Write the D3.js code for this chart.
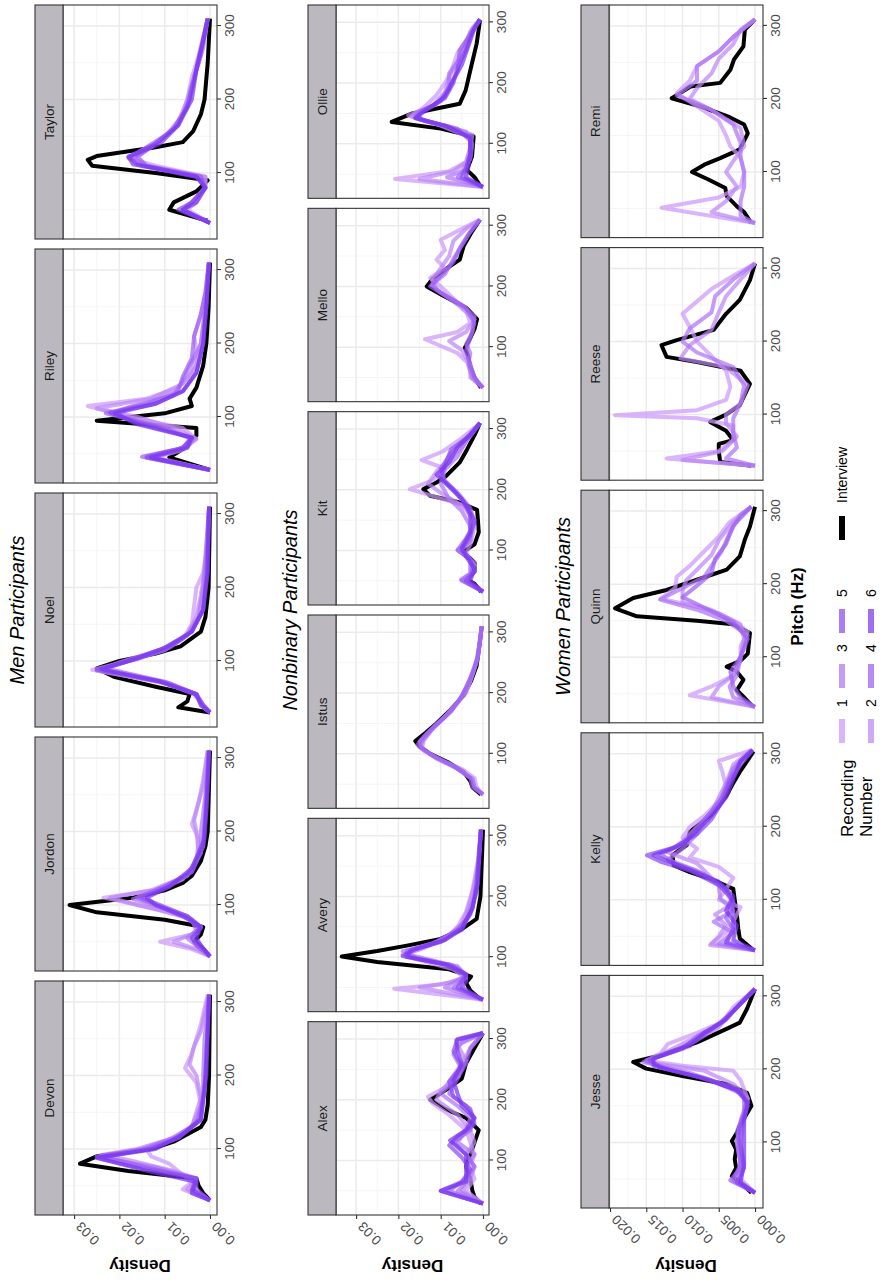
<!DOCTYPE html>
<html>
<head>
<meta charset="utf-8">
<script src="https://cdn.jsdelivr.net/npm/d3@7"></script>
<style>
  body { margin: 0; background: #fff; }
  text { font-family: "Liberation Sans", Arial, sans-serif; }
</style>
</head>
<body>
<svg id="chart" width="880" height="1281"></svg>
<script>
// recording labels and colours (1 = lightest)
var recordings = ["Interview", "1", "2", "3", "4", "5", "6"];
var recColors = ["#000000", "#cc99f9", "#bd87f7", "#ad74f5", "#9c60f3", "#8a4bf1", "#7a37ef"];

var pitchTicks = [100, 200, 300];
var pitchMinor = [50, 150, 250];

var menNames = ["Devon", "Jordon", "Noel", "Riley", "Taylor"];
var nbNames = ["Alex", "Avery", "Istus", "Kit", "Mello", "Ollie"];
var womenNames = ["Jesse", "Kelly", "Quinn", "Reese", "Remi"];

var densTicks03 = [0, 0.01, 0.02, 0.03];
var densMinor03 = [0.005, 0.015, 0.025];
var densTicks02 = [0, 0.005, 0.01, 0.015, 0.02];
var densMinor02 = [0.0025, 0.0075, 0.0125, 0.0175];

// [pitch Hz, density x 1000]
var devon = [
  ["Interview", [[30,0],[40,1.5],[50,2.5],[60,3],[70,18],[80,28.7],[90,25],[100,13],[110,8],[120,5],[130,2],[140,1],[160,0.5],[200,0.2],[310,0]]],
  ["1", [[30,0],[45,6],[55,4],[65,6],[80,9],[90,13],[100,14],[110,10],[130,4],[160,2],[190,3],[210,5.5],[230,4],[250,3],[270,2],[310,0.5]]],
  ["2", [[30,0],[45,5],[60,3],[70,8],[85,18],[92,24],[100,16],[115,8],[130,4],[170,2],[200,3],[215,4.5],[240,3.5],[260,2],[310,0.3]]],
  ["3", [[30,0],[45,4],[60,3],[75,12],[90,25],[100,15],[115,8],[135,3],[170,1.5],[200,1.5],[250,1.2],[310,0.2]]],
  ["4", [[30,0],[45,3],[60,3],[75,14],[90,24],[100,14],[115,7],[140,2.5],[180,1.2],[230,0.8],[310,0.2]]],
  ["5", [[30,0],[45,4],[60,3],[75,16],[88,25],[100,13],[115,7],[140,2],[200,1],[310,0.2]]],
  ["6", [[30,0],[40,4],[55,3],[72,15],[88,25],[100,12],[120,6],[140,2],[200,0.8],[310,0.2]]]
];
var jordon = [
  ["Interview", [[30,0],[40,1.5],[50,3.5],[60,2],[70,1.5],[80,10],[90,25],[100,31],[110,17],[120,10],[130,6],[140,4],[160,2],[180,1],[200,0.5],[310,0]]],
  ["1", [[30,0],[40,4],[50,11],[60,4],[70,2],[80,4],[95,12],[110,23.5],[120,12],[135,6],[160,3],[190,2.5],[210,4],[230,3],[260,1.5],[310,0.5]]],
  ["2", [[30,0],[40,3],[50,8],[60,4],[70,2],[85,6],[100,16],[110,22],[120,13],[140,5],[170,2.5],[200,3],[215,3.5],[240,2.5],[270,1.5],[310,0.5]]],
  ["3", [[30,0],[45,3],[55,5],[65,3],[80,4],[95,10],[108,17],[120,12],[140,5],[170,2],[200,2],[250,1],[310,0.3]]],
  ["4", [[30,0],[45,3],[55,4],[70,2],[85,5],[100,12],[110,16],[125,10],[145,4],[180,1.5],[230,1],[310,0.3]]],
  ["5", [[30,0],[45,2],[55,4],[70,2],[85,5],[100,11],[110,15],[125,9],[145,4],[180,1.5],[230,0.8],[310,0.2]]],
  ["6", [[30,0],[45,2],[55,3],[70,2],[85,6],[100,12],[110,14],[125,9],[150,4],[190,1.2],[250,0.6],[310,0.2]]]
];
var noel = [
  ["Interview", [[30,0],[37,7],[45,5],[55,4.5],[65,12],[78,21],[90,25],[100,20],[110,12],[120,6.5],[140,2],[160,1],[200,0.3],[310,0]]],
  ["1", [[30,0],[40,2],[55,3],[70,10],[88,26],[100,18],[115,10],[130,6],[150,4],[175,3.5],[200,3],[220,1.5],[260,0.5],[310,0.2]]],
  ["2", [[30,0],[40,2],[55,3],[70,10],[87,25],[100,19],[115,11],[135,5],[160,3],[190,2],[230,1],[310,0.2]]],
  ["3", [[30,0],[40,1.5],[55,3],[70,9],[88,24],[100,18],[115,10],[135,5],[160,2.5],[200,1.5],[310,0.2]]],
  ["4", [[30,0],[40,1.5],[55,3],[72,10],[90,23],[105,16],[120,9],[140,4],[170,1.5],[220,0.8],[310,0.2]]],
  ["5", [[30,0],[40,1.5],[55,3.5],[72,11],[88,25],[103,16],[118,9],[140,4],[170,1.5],[220,0.6],[310,0.2]]],
  ["6", [[30,0],[40,2],[55,3],[72,11],[89,24],[102,17],[118,10],[140,4],[170,1.5],[220,0.5],[310,0.2]]]
];
var riley = [
  ["Interview", [[28,0],[45,9],[60,5],[75,3],[85,3],[95,25],[105,10],[115,4],[125,4.5],[140,3],[170,1.5],[200,0.8],[250,0.3],[310,0]]],
  ["1", [[28,0],[45,12],[55,6],[70,3],[85,6],[100,18],[115,27],[125,14],[140,7],[160,4],[190,3],[210,3.5],[240,2],[270,1],[310,0.3]]],
  ["2", [[28,0],[45,13],[55,7],[70,3],[85,8],[100,16],[112,25],[125,13],[145,6],[170,3],[200,2],[250,1],[310,0.3]]],
  ["3", [[28,0],[46,14],[58,6],[70,4],[85,10],[105,22],[115,17],[130,8],[150,6],[175,4],[200,2],[250,1],[310,0.3]]],
  ["4", [[28,0],[46,15],[58,6],[72,4],[88,12],[105,23],[118,14],[135,7],[155,6],[180,4],[210,3.5],[240,2],[270,1],[310,0.2]]],
  ["5", [[28,0],[45,14],[58,6],[72,4],[90,15],[106,22],[118,12],[135,6],[160,3],[200,1.5],[250,0.8],[310,0.2]]],
  ["6", [[28,0],[45,13],[58,5],[72,4],[90,16],[105,21],[118,12],[135,6],[160,3],[200,1.5],[250,0.8],[310,0.2]]]
];
var taylor = [
  ["Interview", [[35,0.5],[50,9],[60,8],[75,3],[90,0.5],[100,12],[110,26],[118,27],[123,25],[135,12],[142,6],[157,3.7],[180,2],[200,1.2],[250,0.5],[310,0]]],
  ["1", [[32,0],[50,5],[60,3],[80,1],[95,1],[110,12],[120,18],[135,14],[150,10],[170,7],[200,5],[230,4],[260,2.5],[310,0.5]]],
  ["2", [[32,0],[50,6],[60,4],[80,1],[95,1],[110,14],[120,17],[135,14],[155,9],[180,6],[210,4.5],[240,3],[270,1.5],[310,0.5]]],
  ["3", [[32,0],[50,6],[60,4],[80,1],[95,2],[110,15],[120,17],[135,13],[160,8],[190,5],[220,4],[260,2],[310,0.5]]],
  ["4", [[32,0],[50,6],[60,4],[80,1],[95,2],[110,14],[122,16],[140,12],[160,8],[190,5],[230,3.5],[270,2],[310,0.5]]],
  ["5", [[32,0],[50,7],[60,4],[80,1],[95,3],[112,16],[122,18],[140,12],[165,7],[200,4.5],[240,3],[280,1.5],[310,0.5]]],
  ["6", [[32,0],[50,6],[60,3],[80,1],[95,3],[112,17],[122,18],[140,11],[165,7],[200,4],[240,3],[280,1.5],[310,0.5]]]
];
var alex = [
  ["Interview", [[29,0.5],[40,2],[50,2.5],[70,3],[90,4],[110,3],[130,2],[150,1],[170,4],[185,9],[200,12.5],[215,9],[235,5],[260,4],[285,2],[310,0]]],
  ["1", [[29,0],[50,4],[70,2],[90,3],[110,2],[130,3],[150,4],[175,8],[195,12],[205,13],[220,9],[240,7],[260,5],[285,3],[310,0]]],
  ["2", [[29,0],[50,5],[70,3],[90,2],[110,4],[130,2],[150,3],[175,6],[200,11],[215,10],[240,6],[265,4],[290,6],[310,0]]],
  ["3", [[29,0],[50,6],[70,3],[90,4],[110,2],[130,6],[150,4],[170,3],[190,6],[210,10],[230,7],[250,5],[275,7],[295,5],[310,0]]],
  ["4", [[29,0],[50,8],[70,4],[90,2],[110,4],[130,7],[150,3],[170,2],[190,4],[210,8],[235,6],[260,4],[285,3],[310,0]]],
  ["5", [[29,0],[50,10],[65,5],[85,3],[105,5],[125,8],[140,6],[160,2],[185,3],[205,7],[230,8],[255,5],[280,7],[300,6],[310,0]]],
  ["6", [[29,0],[50,10],[65,4],[85,4],[110,4],[133,7.8],[150,4],[170,2],[190,5],[210,6],[232,7],[260,5],[280,6],[298,6.3],[310,0]]]
];
var avery = [
  ["Interview", [[30,0.5],[45,3],[58,4],[68,2.8],[80,8],[92,25],[101,33.4],[110,25],[119,18],[130,10],[146,5],[163,1.5],[200,0.6],[310,0]]],
  ["1", [[30,0],[48,21],[55,10],[65,4],[80,7],[95,15],[105,19],[115,14],[130,9],[150,6],[175,4],[210,2.5],[260,1.2],[310,0.5]]],
  ["2", [[30,0],[50,15],[58,8],[68,4],[82,6],[95,12],[105,18],[118,13],[135,8],[155,5],[180,3.5],[220,2],[260,1],[310,0.5]]],
  ["3", [[30,0],[50,9],[58,7],[70,4],[85,6],[100,16],[110,19],[122,12],[140,7],[160,4],[200,2],[260,1],[310,0.5]]],
  ["4", [[30,0],[50,7],[60,5],[70,4],[85,7],[100,17],[110,18],[125,11],[145,6],[170,3],[210,1.5],[310,0.5]]],
  ["5", [[30,0],[50,6],[60,5],[72,4],[88,8],[100,18],[112,17],[125,10],[145,5],[180,2.5],[220,1.5],[310,0.5]]],
  ["6", [[30,0],[50,5],[60,4],[72,4],[88,9],[102,19],[113,16],[128,9],[148,5],[180,2.5],[220,1.2],[310,0.5]]]
];
var istus = [
  ["Interview", [[33,0.5],[45,2.5],[55,3],[70,4.5],[85,8],[100,12.5],[112,15],[121,16],[135,13.5],[150,11],[170,8],[196,4.6],[220,2.8],[245,1.5],[280,0.8],[310,0.3]]],
  ["1", [[33,0],[45,1.5],[60,2],[75,5],[90,10],[105,14],[120,15],[135,13],[155,10],[175,7],[200,4],[230,2.5],[260,1.2],[310,0.3]]],
  ["2", [[33,0],[45,2],[60,2.5],[75,6],[92,11],[108,14.5],[122,14],[140,12],[160,9],[185,6],[210,3.5],[240,2],[280,0.8],[310,0.3]]],
  ["3", [[33,0],[45,2],[58,2.5],[78,6.5],[95,11.5],[112,15],[125,14],[145,11.5],[165,8.5],[190,5.5],[215,3.5],[250,1.5],[310,0.3]]],
  ["4", [[33,0],[45,2.5],[60,3],[80,7],[98,12],[115,15.5],[128,14],[148,11],[170,7.5],[195,5],[225,3],[260,1.2],[310,0.3]]]
];
var kit = [
  ["Interview", [[32,0.5],[45,2],[52,3.8],[65,2],[80,2],[90,3.5],[98,4.6],[110,2],[130,1],[150,1.2],[167,1.4],[180,6],[190,12.5],[201,14.1],[212,11],[222,8.8],[245,5.5],[266,3.8],[290,2],[310,0.7]]],
  ["1", [[32,0],[45,3],[52,4],[65,2],[85,3],[100,5],[120,3],[150,2],[175,5],[190,12],[201,17.3],[215,12],[235,9],[249,14.5],[263,9.5],[285,5],[310,0.7]]],
  ["2", [[32,0],[48,4],[55,3],[75,2],[95,4],[110,3],[140,2],[170,4],[195,10],[210,13],[230,11],[250,8],[270,5],[310,0.7]]],
  ["3", [[32,0],[50,5],[60,3],[80,2],[100,6],[115,3],[140,3],[165,5],[185,8],[210,10],[233,9],[255,6],[280,4],[310,0.7]]],
  ["4", [[32,0],[52,5.2],[62,3],[85,3],[101,6],[120,4],[145,2],[170,3],[195,6],[215,9],[235,10],[260,7.6],[285,4],[310,0.7]]],
  ["5", [[32,0],[50,4],[65,2],[85,3],[100,5],[125,3],[150,2],[175,4],[200,7],[220,10],[240,9],[266,7.6],[290,3],[310,0.7]]],
  ["6", [[32,0],[50,3],[70,2],[90,4],[105,5],[130,3],[160,3],[185,5],[205,8],[225,11],[245,8],[270,6],[290,3],[310,0.7]]]
];
var mello = [
  ["Interview", [[33,0.5],[50,2],[69,3.1],[85,3.5],[99,4.3],[115,3],[130,2],[146,1.4],[165,4],[185,9.5],[200,13.3],[212,12],[222,10.2],[244,5.5],[266,4.6],[288,2.8],[310,0.7]]],
  ["1", [[33,0],[50,2],[70,3],[90,6],[113,13.7],[125,6],[140,3],[160,4],[180,7],[200,10],[214,12.5],[230,9],[244,11],[260,9],[277,10],[295,5],[310,0.7]]],
  ["2", [[33,0],[50,3],[70,3],[95,5],[110,8],[125,4],[145,2],[170,6],[195,11],[210,12],[230,10],[250,8],[275,7],[295,4],[310,0.7]]],
  ["3", [[33,0],[50,2.5],[70,3.5],[90,3],[105,4],[125,2.5],[150,2],[170,5],[190,10],[203,12],[220,9],[245,7],[268,5],[290,3],[310,0.7]]],
  ["4", [[33,0],[50,2],[72,3],[95,4],[115,3],[140,2],[165,4],[185,9],[200,12.5],[218,10],[240,7],[262,5.5],[285,3.5],[310,0.7]]]
];
var ollie = [
  ["Interview", [[29,0.5],[45,2],[57,3.8],[79,2.6],[112,2.2],[125,10],[136,21.6],[150,16.7],[166,5.5],[188,4.1],[227,2.8],[265,1.5],[304,0.7]]],
  ["1", [[29,0],[42,20.8],[55,8],[70,4],[90,3],[110,3],[130,10],[145,17],[160,14],[180,11],[200,9],[220,7.5],[250,6],[280,3],[305,0.7]]],
  ["2", [[29,0],[42,15],[55,7],[70,4],[95,3],[115,2.5],[135,12],[147,17.7],[162,12],[185,9],[210,8],[235,6],[260,4.5],[285,3],[305,0.7]]],
  ["3", [[29,0],[45,8.5],[55,5],[75,3],[100,2.5],[120,4],[138,14],[150,16],[165,11],[190,8],[216,8],[240,5.5],[265,4],[290,2.5],[305,0.7]]],
  ["4", [[29,0],[45,6],[58,4],[80,3],[105,3],[125,6],[140,15],[152,15],[170,10],[195,8],[220,6],[254,5.5],[280,3],[305,0.7]]],
  ["5", [[29,0],[45,5],[60,4],[85,3],[110,3],[128,8],[142,16],[155,14],[175,9],[200,7],[225,6],[255,4],[285,2.5],[305,0.7]]],
  ["6", [[29,0],[45,4],[60,3.5],[85,3],[110,3],[130,9],[143,16],[157,13],[178,9],[205,7],[230,5],[260,3.5],[290,2],[305,0.7]]]
];
var jesse = [
  ["Interview", [[31,0.5],[45,2],[54,3.2],[65,2.6],[77,2.8],[90,2.6],[102,3.2],[115,2.4],[123,2.1],[150,0.5],[168,1.1],[180,4],[191,10],[201,15],[210,16.8],[219,13.1],[237,8],[255,4],[264,2.1],[283,1.1],[310,0]]],
  ["1", [[31,0],[50,2],[70,1.5],[100,2],[130,1.5],[160,1],[185,2],[198,3],[205,10],[212,15],[222,13],[235,12],[250,8],[265,4.5],[285,3],[310,0]]],
  ["2", [[31,0],[50,2.5],[70,2],[100,2.5],[130,2],[160,1],[180,3],[198,7],[210,15],[225,12],[240,9],[255,6],[270,4],[290,2],[310,0]]],
  ["3", [[31,0],[48,3],[70,2],[100,2.5],[125,2],[155,1],[175,3],[195,9],[210,15.4],[225,11],[240,8],[258,5],[275,3.5],[295,1.5],[310,0]]],
  ["4", [[31,0],[48,3.4],[65,2],[90,2],[115,2.5],[140,1.5],[165,1.5],[185,6],[200,12],[212,15],[228,10],[245,8],[262,5],[280,3],[310,0]]],
  ["5", [[31,0],[45,2.5],[65,1.5],[95,2],[120,2],[150,1],[170,2],[188,7],[202,13],[213,14.5],[230,10],[248,7],[265,4.5],[285,2.5],[310,0]]],
  ["6", [[31,0],[45,2],[70,1.5],[100,1.5],[130,1.5],[155,1],[172,2.5],[190,8],[205,14],[215,14],[232,9],[250,7],[268,4],[290,2],[310,0]]]
];
var kelly = [
  ["Interview", [[31,0.2],[47,2.1],[60,2.3],[79,2.5],[100,2.8],[115,3],[128,6],[138,9],[147,11.2],[161,11.4],[175,9.4],[193,9],[205,7.5],[220,5.7],[243,3.9],[260,3],[275,2.1],[303,0.2]]],
  ["1", [[31,0],[40,6],[55,4],[70,3],[90,2],[100,5],[115,4],[130,3],[145,5],[158,9],[170,8],[185,10],[200,9],[215,7],[235,5],[255,4],[275,4.5],[290,5],[305,0.5]]],
  ["2", [[31,0],[38,6.2],[50,5],[65,4],[80,5.5],[95,3],[110,4],[130,6],[150,8],[165,12],[180,10],[200,8],[220,6],[240,5],[260,4],[285,3],[305,0.5]]],
  ["3", [[31,0],[40,5],[55,3],[70,5.7],[85,3],[102,4.8],[120,5],[140,8],[155,12],[170,10],[190,8],[210,7],[230,5],[255,4],[280,3],[305,0.5]]],
  ["4", [[31,0],[40,4],[60,3],[75,4],[95,3],[115,4],[135,7],[150,11],[162,13],[178,10],[195,8],[215,6.5],[240,4.5],[265,3.5],[290,2],[305,0.3]]],
  ["5", [[31,0],[42,4],[60,3],[80,3],[100,3],[120,5],[140,9],[152,13],[161,14.9],[172,11],[190,8],[210,6],[235,4.5],[260,3.5],[285,2],[305,0.3]]],
  ["6", [[31,0],[45,3],[65,2.5],[85,4],[105,3],[125,5],[145,10],[161,14],[175,10],[195,8],[215,6],[240,4],[265,3],[290,2],[305,0.3]]]
];
var quinn = [
  ["Interview", [[32,0.3],[46,1.6],[55,2.5],[69,1.6],[80,2.5],[87,3.9],[95,2],[105,1],[133,0.7],[145,3],[150,8],[156,16.3],[167,19.3],[181,16.8],[192,12.2],[206,8],[220,3.9],[238,2.1],[261,1.4],[279,0.7],[306,0]]],
  ["1", [[32,0],[48,9],[60,6],[75,3],[95,2],[115,2],[135,1],[150,3],[165,6],[180,13],[195,11],[210,10.8],[225,9],[245,7],[265,5],[285,3.5],[306,0.5]]],
  ["2", [[32,0],[45,6],[60,5],[75,3],[100,2],[125,1.5],[145,2],[160,5],[175,10],[190,10],[205,9.5],[220,8],[240,6],[260,5],[285,3],[306,0.5]]],
  ["3", [[32,0],[45,3],[60,3.5],[75,2.5],[100,2],[130,1],[150,4],[165,8],[179,13.1],[195,9.9],[210,7],[225,6],[245,4.6],[270,3.5],[295,2],[306,0.5]]],
  ["4", [[32,0],[45,2],[60,3],[80,3.4],[100,2],[125,1],[148,3],[168,7],[182,10],[198,8],[215,6],[235,5.5],[255,4],[280,3],[306,0.5]]]
];
var reese = [
  ["Interview", [[30,0.5],[35,4.8],[50,5],[60,5],[65,3],[78,4],[90,6.2],[100,4],[113,2.1],[142,0.7],[160,2],[172,8],[179,12.2],[195,12.9],[202,10.8],[216,5.7],[238,4],[257,2.1],[284,0.7],[307,0]]],
  ["1", [[30,0],[40,12.2],[50,5],[65,3],[85,3],[95,8],[99,19.3],[106,8],[120,4],[138,3.4],[160,4],[180,6],[200,8],[220,9],[238,10],[255,8],[272,6],[290,3],[307,0]]],
  ["2", [[30,0],[38,10],[50,4.5],[70,2.5],[88,4],[100,4],[115,2],[140,1],[165,4],[177,10.3],[195,9],[216,6],[240,5],[262,4],[285,2],[307,0]]],
  ["3", [[30,0],[40,4],[55,2.5],[75,3],[95,3],[115,2],[140,1.5],[165,3],[185,8],[200,10],[218,9],[240,6],[262,5.5],[285,3],[307,0]]]
];
var remi = [
  ["Interview", [[30,0.5],[45,1.5],[53,2.5],[67,3.9],[78,4.1],[90,6.5],[100,8.7],[110,7],[119,4.8],[131,2.1],[153,1],[165,1.5],[175,3.5],[190,7.6],[201,11.5],[210,10],[217,8.9],[222,4.8],[240,3.4],[254,2.9],[272,1.6],[295,1.4],[309,0]]],
  ["1", [[30,0],[51,12.9],[65,5],[80,2],[100,1.5],[120,2],[135,3.4],[150,4],[170,5],[190,8],[208,10.8],[225,9],[245,8],[265,5],[285,3],[309,0]]],
  ["2", [[30,0],[45,6],[60,4],[80,2.5],[100,4],[115,3],[135,1.5],[160,2],[185,6],[200,9],[215,8],[235,6],[255,5],[275,3],[295,2],[309,0]]],
  ["3", [[30,0],[40,2],[60,2],[80,1.5],[100,1.5],[120,2],[140,2],[165,3],[185,6],[205,10.8],[225,8],[245,8],[265,5],[285,3],[309,0]]]
];

var panelData = {
  Devon: devon, Jordon: jordon, Noel: noel, Riley: riley, Taylor: taylor,
  Alex: alex, Avery: avery, Istus: istus, Kit: kit, Mello: mello, Ollie: ollie,
  Jesse: jesse, Kelly: kelly, Quinn: quinn, Reese: reese, Remi: remi
};

// the figure is drawn landscape (1281 x 880) and turned a quarter left
var W = 1281;
var pitchDomain = [10.2, 328.6];
var rightEdge = 1276, gap = 10;

var rows = [
  { title: "Men Participants", names: menNames, stripTop: 35, panelTop: 63, panelBottom: 217, left: 66,
    yDomain: [-0.00155, 0.03245], ticks: densTicks03, minor: densMinor03, fmt: ".2f" },
  { title: "Nonbinary Participants", names: nbNames, stripTop: 308, panelTop: 336, panelBottom: 489, left: 66,
    yDomain: [-0.00142, 0.03475], ticks: densTicks03, minor: densMinor03, fmt: ".2f" },
  { title: "Women Participants", names: womenNames, stripTop: 581, panelTop: 609, panelBottom: 763, left: 73,
    yDomain: [-0.0011, 0.02014], ticks: densTicks02, minor: densMinor02, fmt: ".3f" }
];

var svg = d3.select("#chart");
var g = svg.append("g").attr("transform", "translate(0," + W + ") rotate(-90)");
var defs = svg.append("defs");

var colorOf = d3.scaleOrdinal().domain(recordings).range(recColors);

rows.forEach(function(row, ri) {
  var n = row.names.length;
  var pw = (rightEdge - row.left - gap * (n - 1)) / n;
  var y = d3.scaleLinear().domain(row.yDomain).range([row.panelBottom, row.panelTop]);
  var ph = row.panelBottom - row.panelTop;

  g.append("text")
    .attr("x", (row.left + rightEdge) / 2)
    .attr("y", row.stripTop - 11)
    .attr("text-anchor", "middle")
    .style("font-size", "20px")
    .style("font-style", "italic")
    .attr("fill", "#000")
    .text(row.title);

  row.names.forEach(function(name, i) {
    var px = row.left + i * (pw + gap);
    var x = d3.scaleLinear().domain(pitchDomain).range([px, px + pw]);
    var p = g.append("g");
    var clipId = "clip" + ri + "_" + i;
    defs.append("clipPath").attr("id", clipId)
      .append("rect").attr("x", px).attr("y", row.panelTop).attr("width", pw).attr("height", ph);

    p.append("rect").attr("x", px).attr("y", row.panelTop).attr("width", pw).attr("height", ph).attr("fill", "#fff");

    // grid
    p.selectAll(".vminor").data(pitchMinor).enter().append("line")
      .attr("x1", d => x(d)).attr("x2", d => x(d)).attr("y1", row.panelTop).attr("y2", row.panelBottom)
      .attr("stroke", "#f2f2f2").attr("stroke-width", 0.8);
    p.selectAll(".hminor").data(row.minor).enter().append("line")
      .attr("x1", px).attr("x2", px + pw).attr("y1", d => y(d)).attr("y2", d => y(d))
      .attr("stroke", "#f2f2f2").attr("stroke-width", 0.8);
    p.selectAll(".vmajor").data(pitchTicks).enter().append("line")
      .attr("x1", d => x(d)).attr("x2", d => x(d)).attr("y1", row.panelTop).attr("y2", row.panelBottom)
      .attr("stroke", "#ebebeb").attr("stroke-width", 1.5);
    p.selectAll(".hmajor").data(row.ticks).enter().append("line")
      .attr("x1", px).attr("x2", px + pw).attr("y1", d => y(d)).attr("y2", d => y(d))
      .attr("stroke", "#ebebeb").attr("stroke-width", 1.5);

    var line = d3.line().x(d => x(d[0])).y(d => y(d[1] / 1000));
    p.append("g").attr("clip-path", "url(#" + clipId + ")")
      .selectAll("path").data(panelData[name]).enter().append("path")
      .attr("d", d => line(d[1]))
      .attr("fill", "none")
      .attr("stroke", d => colorOf(d[0]))
      .attr("stroke-opacity", d => d[0] === "Interview" ? 1 : 0.72)
      .attr("stroke-width", 4)
      .attr("stroke-linejoin", "round");

    p.append("rect").attr("x", px).attr("y", row.panelTop).attr("width", pw).attr("height", ph)
      .attr("fill", "none").attr("stroke", "#333").attr("stroke-width", 1.1);

    // strip
    p.append("rect").attr("x", px).attr("y", row.stripTop).attr("width", pw).attr("height", row.panelTop - row.stripTop)
      .attr("fill", "#bbb9bf").attr("stroke", "#333").attr("stroke-width", 1.1);
    p.append("text")
      .attr("x", px + pw / 2).attr("y", (row.stripTop + row.panelTop) / 2 + 4.8)
      .attr("text-anchor", "middle").style("font-size", "13.5px").attr("fill", "#1a1a1a")
      .text(name);

    // pitch axis
    var ax = p.append("g").attr("transform", "translate(0," + row.panelBottom + ")")
      .call(d3.axisBottom(x).tickValues(pitchTicks).tickSize(4).tickPadding(3));
    ax.select(".domain").remove();
    ax.selectAll("line").attr("stroke", "#333").attr("stroke-width", 1.1);
    ax.selectAll("text").style("font-size", "13.5px").style("font-family", "Liberation Sans, Arial, sans-serif").attr("fill", "#4d4d4d");

    if (i === 0) {
      var ay = p.append("g").attr("transform", "translate(" + px + ",0)")
        .call(d3.axisLeft(y).tickValues(row.ticks).tickFormat(d3.format(row.fmt)).tickSize(4));
      ay.select(".domain").remove();
      ay.selectAll("line").attr("stroke", "#333").attr("stroke-width", 1.1);
      ay.selectAll("text")
        .attr("x", 0).attr("dy", 0)
        .attr("transform", "translate(-6,7) rotate(-45)")
        .style("font-size", "13.5px").style("font-family", "Liberation Sans, Arial, sans-serif")
        .attr("fill", "#4d4d4d");
    }
  });

  g.append("text")
    .attr("transform", "translate(21," + (row.panelTop + row.panelBottom) / 2 + ") rotate(-90)")
    .attr("text-anchor", "middle")
    .style("font-size", "17px").style("font-weight", "bold")
    .text("Density");
});

// pitch axis title
g.append("text")
  .attr("x", (73 + rightEdge) / 2).attr("y", 803)
  .attr("text-anchor", "middle")
  .style("font-size", "17px").style("font-weight", "bold")
  .text("Pitch (Hz)");

// legend
var leg = g.append("g");
leg.append("text").attr("x", 444).attr("y", 853).style("font-size", "17px").text("Recording");
leg.append("text").attr("x", 444).attr("y", 872).style("font-size", "17px").text("Number");

var legItems = recordings.slice(1);
leg.selectAll(".key").data(legItems).enter().append("line")
  .attr("x1", (d, i) => 538 + Math.floor(i / 2) * 55)
  .attr("x2", (d, i) => 538 + Math.floor(i / 2) * 55 + 24)
  .attr("y1", (d, i) => 842 + (i % 2) * 29)
  .attr("y2", (d, i) => 842 + (i % 2) * 29)
  .attr("stroke", d => colorOf(d)).attr("stroke-opacity", 0.72).attr("stroke-width", 6);
leg.selectAll(".lab").data(legItems).enter().append("text")
  .attr("x", (d, i) => 538 + Math.floor(i / 2) * 55 + 36)
  .attr("y", (d, i) => 842 + (i % 2) * 29 + 5)
  .style("font-size", "14px")
  .text(d => d);

leg.append("line").attr("x1", 741).attr("x2", 765).attr("y1", 842).attr("y2", 842)
  .attr("stroke", "#000").attr("stroke-width", 6);
leg.append("text").attr("x", 778).attr("y", 847).style("font-size", "14px").text("Interview");
</script>
</body>
</html>
